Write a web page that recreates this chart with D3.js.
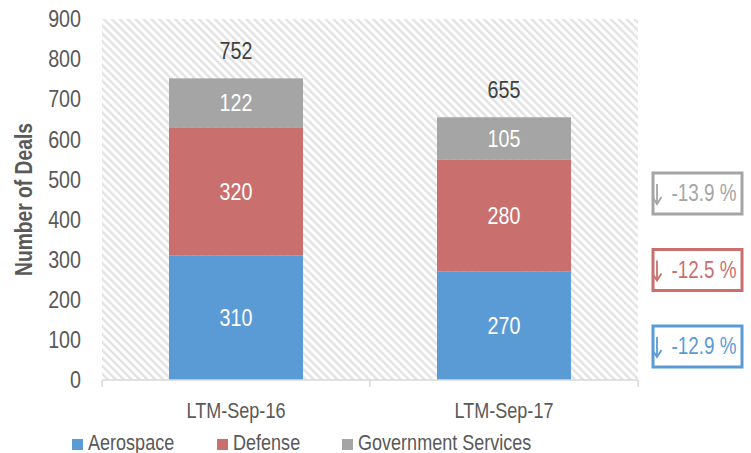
<!DOCTYPE html>
<html>
<head>
<meta charset="utf-8">
<script src="https://cdn.jsdelivr.net/npm/d3@7"></script>
<style>
  body { margin: 0; background: #fff; }
  svg text { font-family: "Liberation Sans", Arial, sans-serif; }
</style>
</head>
<body>
<svg id="chart"></svg>
<script>
// data
const categories = ["LTM-Sep-16", "LTM-Sep-17"];
const seriesNames = ["Aerospace", "Defense", "Government Services"];
const aerospace = [310, 270];
const defense = [320, 280];
const government = [122, 105];
const yTicks = [0, 100, 200, 300, 400, 500, 600, 700, 800, 900];

const colors = { "Aerospace": "#5b9bd5", "Defense": "#c9706f", "Government Services": "#a5a5a5" };

const config = {
    width: 751,
    height: 453,
    margin: { top: 19, right: 113, bottom: 73, left: 102 }
};

// no narrow font installed: squeeze text horizontally instead
const SQ = 0.82;
function narrow(sel, rot) {
    sel.each(function() {
        const t = d3.select(this);
        const x = +t.attr("x") || 0, y = +t.attr("y") || 0;
        t.attr("x", null).attr("y", null)
         .attr("transform", `translate(${x},${y})${rot ? " rotate(" + rot + ")" : ""} scale(${SQ},1)`);
    });
}

const rows = categories.map((c, i) => ({
    cat: c,
    "Aerospace": aerospace[i],
    "Defense": defense[i],
    "Government Services": government[i]
}));
rows.forEach(d => { d.total = d["Aerospace"] + d["Defense"] + d["Government Services"]; });

const svg = d3.select("#chart")
    .attr("width", config.width)
    .attr("height", config.height);

const innerW = config.width - config.margin.left - config.margin.right;
const innerH = config.height - config.margin.top - config.margin.bottom;

// hatch pattern for plot background
const defs = svg.append("defs");
const pat = defs.append("pattern")
    .attr("id", "hatch")
    .attr("patternUnits", "userSpaceOnUse")
    .attr("width", 5.6)
    .attr("height", 5.6)
    .attr("patternTransform", "rotate(-45)");
pat.append("rect").attr("width", 5.6).attr("height", 5.6).attr("fill", "#ffffff");
pat.append("rect").attr("width", 2.4).attr("height", 5.6).attr("fill", "#e2e2e2");

const chart = svg.append("g")
    .attr("transform", `translate(${config.margin.left}, ${config.margin.top})`);

const xscale = d3.scaleBand()
    .domain(categories)
    .range([0, innerW])
    .paddingInner(0.5)
    .paddingOuter(0.25);

const bandX = d3.scaleBand().domain(categories).range([0, innerW]);

const yscale = d3.scaleLinear()
    .domain([0, 900])
    .range([innerH, 0]);

chart.append("rect")
    .attr("width", innerW)
    .attr("height", innerH)
    .attr("fill", "url(#hatch)");

// stacked bars
const stack = d3.stack().keys(seriesNames)(rows);

const layers = chart.selectAll(".layer")
    .data(stack)
    .join("g")
    .attr("class", "layer")
    .attr("fill", d => colors[d.key]);

layers.selectAll("rect")
    .data(d => d)
    .join("rect")
    .attr("x", d => xscale(d.data.cat))
    .attr("y", d => yscale(d[1]))
    .attr("width", xscale.bandwidth())
    .attr("height", d => yscale(d[0]) - yscale(d[1]));

layers.selectAll("text")
    .data(d => d)
    .join("text")
    .attr("x", d => xscale(d.data.cat) + xscale.bandwidth() / 2)
    .attr("y", d => (yscale(d[0]) + yscale(d[1])) / 2)
    .attr("dy", "0.36em")
    .attr("text-anchor", "middle")
    .attr("fill", "#ffffff")
    .style("font-size", "24px")
    .text(d => d[1] - d[0])
    .call(narrow);

// totals
chart.selectAll(".total")
    .data(rows)
    .join("text")
    .attr("class", "total")
    .attr("x", d => xscale(d.cat) + xscale.bandwidth() / 2)
    .attr("y", d => yscale(d.total) - 19)
    .attr("text-anchor", "middle")
    .attr("fill", "#404040")
    .style("font-size", "24px")
    .text(d => d.total)
    .call(narrow);

// x axis
const xaxis_group = chart.append("g")
    .attr("transform", `translate(0, ${innerH})`);
xaxis_group.append("line")
    .attr("x1", 0).attr("x2", innerW)
    .attr("stroke", "#d9d9d9").attr("stroke-width", 1.5);
xaxis_group.selectAll(".xtick")
    .data([0, ...categories.map(c => bandX(c) + bandX.bandwidth())])
    .join("line")
    .attr("x1", d => d).attr("x2", d => d)
    .attr("y1", 0).attr("y2", 7)
    .attr("stroke", "#d9d9d9").attr("stroke-width", 1.5);
xaxis_group.selectAll(".xlab")
    .data(categories)
    .join("text")
    .attr("x", d => xscale(d) + xscale.bandwidth() / 2)
    .attr("y", 38)
    .attr("text-anchor", "middle")
    .attr("fill", "#595959")
    .style("font-size", "22px")
    .text(d => d)
    .call(narrow);

// y axis
const yaxis = d3.axisLeft(yscale).tickValues(yTicks).tickSize(0).tickPadding(21);
const yaxis_group = chart.append("g").call(yaxis);
yaxis_group.select(".domain").remove();
yaxis_group.selectAll("text")
    .attr("fill", "#595959")
    .style("font-size", "24px")
    .style("font-family", null)
    .call(narrow);

svg.append("text")
    .attr("x", 32)
    .attr("y", config.margin.top + innerH / 2)
    .attr("text-anchor", "middle")
    .attr("fill", "#595959")
    .style("font-size", "23.5px")
    .style("font-weight", "bold")
    .text("Number of Deals")
    .call(narrow, -90);

// legend
const legendX = [72, 217, 342];
const legend = svg.selectAll(".legend")
    .data(seriesNames)
    .join("g")
    .attr("class", "legend")
    .attr("transform", (d, i) => `translate(${legendX[i]}, 439)`);
legend.append("rect")
    .attr("width", 11).attr("height", 11)
    .attr("fill", d => colors[d]);
legend.append("text")
    .attr("x", 16).attr("y", 11)
    .attr("fill", "#595959")
    .style("font-size", "22px")
    .text(d => d)
    .call(narrow);

// change boxes
const change = seriesNames.map(k => ({
    key: k,
    pct: (rows[1][k] - rows[0][k]) / rows[0][k] * 100
}));
const boxY = d3.scalePoint()
    .domain(seriesNames.slice().reverse())
    .range([193, 346]);
const boxes = svg.selectAll(".chg")
    .data(change)
    .join("g")
    .attr("class", "chg")
    .attr("transform", d => `translate(697, ${boxY(d.key)})`);
boxes.append("rect")
    .attr("x", -44).attr("y", -20)
    .attr("width", 89).attr("height", 41)
    .attr("fill", "#ffffff")
    .attr("stroke", d => colors[d.key])
    .attr("stroke-width", 3);
boxes.append("line")
    .attr("x1", -40).attr("x2", -40)
    .attr("y1", -9).attr("y2", 10)
    .attr("stroke", d => colors[d.key])
    .attr("stroke-width", 1.8);
boxes.append("path")
    .attr("d", "M-44.5,4 L-40,11 L-35.5,4")
    .attr("fill", "none")
    .attr("stroke", d => colors[d.key])
    .attr("stroke-width", 1.8);
boxes.append("text")
    .attr("x", 7)
    .attr("y", 0)
    .attr("text-anchor", "middle")
    .attr("dy", "0.36em")
    .attr("fill", d => colors[d.key])
    .style("font-size", "23px")
    .text(d => `${d.pct.toFixed(1)} %`)
    .call(narrow);
</script>
</body>
</html>
